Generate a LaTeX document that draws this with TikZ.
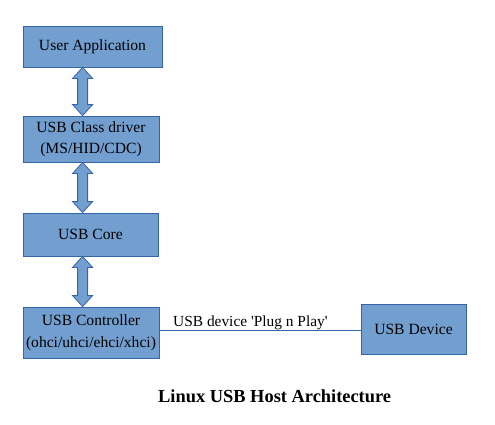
\documentclass[tikz,border=0pt]{standalone}
\usepackage{fontspec}
\setmainfont{Liberation Serif}
\usetikzlibrary{calc}
\definecolor{boxfill}{HTML}{729FCF}
\definecolor{boxline}{HTML}{3465A4}
\tikzset{
  blk/.style={draw=boxline, fill=boxfill, line width=0.8pt, inner sep=0pt, align=center, font=\fontsize{15.6}{21.5}\selectfont},
  blockarrow/.style={draw=boxline, fill=boxfill, line width=0.8pt, line join=miter},
  lnk/.style={draw=boxline, line width=0.8pt}
}
\newcommand{\dblarrow}[2]{%
  \draw[blockarrow] (#1) -- ++(10,11) -- ++(-5,0) -- ($(#2)+(5,-11)$) -- ++(5,0) -- (#2)
    -- ++(-10,-11) -- ++(5,0) -- ($(#1)+(-5,11)$) -- ++(-5,0) -- cycle;}
\begin{document}
\begin{tikzpicture}[x=1pt,y=-1pt]
\useasboundingbox (0,0) rectangle (495,424);
\node[blk, minimum width=139pt, minimum height=41pt] (ua) at (92.5,46.5) {User Application};
\node[blk, minimum width=136pt, minimum height=46pt] (cd) at (91,139) {USB Class driver\\(MS/HID/CDC)};
\node[blk, minimum width=135pt, minimum height=43pt] (core) at (90.5,234.5) {USB Core};
\node[blk, minimum width=136pt, minimum height=51pt] (ctl) at (91,332.5) {USB Controller\\(ohci/uhci/ehci/xhci)};
\node[blk, minimum width=105pt, minimum height=50pt] (dev) at (413.5,329) {USB Device};
\coordinate (a1t) at ($(ua.south west)+(60,0)$);
\coordinate (a1b) at ($(cd.north west)+(60,0)$);
\coordinate (a2t) at ($(cd.south west)+(60,0)$);
\coordinate (a2b) at ($(core.north west)+(60,0)$);
\coordinate (a3t) at ($(core.south west)+(60,0)$);
\coordinate (a3b) at ($(ctl.north west)+(60,0)$);
\dblarrow{a1t}{a1b}
\dblarrow{a2t}{a2b}
\dblarrow{a3t}{a3b}
\draw[lnk] (ctl.east |- 0,330) coordinate (l1) -- (dev.west |- 0,330) coordinate (l2);
\node[font=\fontsize{15.4}{18}\selectfont, anchor=base west, inner sep=0pt] (lbl) at (173,326) {USB device \textquotesingle Plug n Play\textquotesingle};
\node[font=\bfseries\fontsize{18.4}{21}\selectfont, anchor=base west, inner sep=0pt] (title) at (158,402) {Linux USB Host Architecture};
\end{tikzpicture}
\end{document}
